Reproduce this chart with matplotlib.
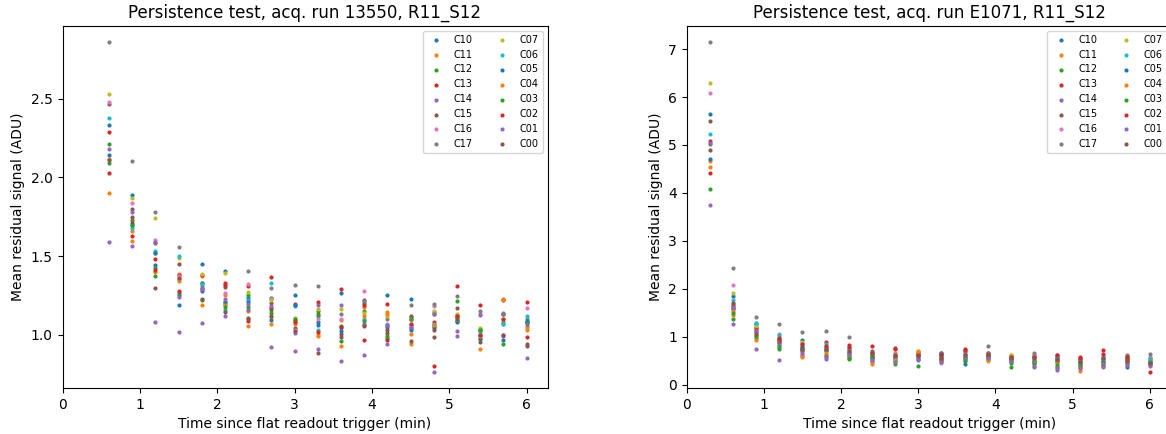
import numpy as np
import matplotlib
matplotlib.use('Agg')
import matplotlib.pyplot as plt

channels = ['C10', 'C11', 'C12', 'C13', 'C14', 'C15', 'C16', 'C17',
            'C07', 'C06', 'C05', 'C04', 'C03', 'C02', 'C01', 'C00']

# run 13550: one row per time point, columns follow `channels`
times_13550 = [0.6, 0.9, 1.2, 1.5, 1.8, 2.1, 2.4, 2.7, 3.0, 3.3,
               3.6, 3.9, 4.2, 4.5, 4.8, 5.1, 5.4, 5.7, 6.0]
resid_13550 = [
    [2.335, 2.118, 2.212, 2.287, 1.590, 2.465, 2.478, 2.857, 2.529, 2.380, 2.142, 1.900, 2.093, 2.029, 2.180, 2.110],
    [1.889, 1.656, 1.732, 1.707, 1.564, 1.796, 1.838, 2.106, 1.870, 1.677, 1.700, 1.594, 1.696, 1.626, 1.777, 1.745],
    [1.446, 1.520, 1.422, 1.478, 1.078, 1.580, 1.601, 1.781, 1.739, 1.529, 1.520, 1.397, 1.376, 1.414, 1.590, 1.297],
    [1.250, 1.388, 1.357, 1.380, 1.017, 1.452, 1.370, 1.558, 1.488, 1.501, 1.191, 1.342, 1.265, 1.280, 1.240, 1.360],
    [1.452, 1.370, 1.331, 1.378, 1.072, 1.330, 1.300, 1.310, 1.388, 1.325, 1.276, 1.191, 1.223, 1.290, 1.293, 1.227],
    [1.405, 1.250, 1.193, 1.331, 1.117, 1.301, 1.268, 1.210, 1.395, 1.159, 1.208, 1.190, 1.176, 1.314, 1.225, 1.142],
    [1.233, 1.150, 1.250, 1.310, 1.160, 1.108, 1.322, 1.408, 1.271, 1.220, 1.206, 1.053, 1.178, 1.087, 1.196, 1.098],
    [1.236, 1.110, 1.159, 1.365, 0.921, 1.201, 1.230, 1.297, 1.223, 1.329, 1.091, 1.070, 1.140, 1.170, 1.185, 1.118],
    [1.255, 1.085, 1.091, 1.197, 0.898, 1.040, 1.030, 1.316, 1.104, 1.180, 1.190, 1.070, 1.100, 1.080, 1.010, 1.023],
    [1.080, 0.991, 1.118, 1.208, 0.911, 1.153, 1.097, 1.310, 1.166, 1.032, 1.060, 1.000, 1.130, 1.017, 1.191, 0.885],
    [1.265, 1.091, 1.053, 1.290, 0.836, 1.006, 1.100, 1.129, 1.166, 1.040, 1.023, 0.930, 0.962, 1.050, 1.191, 0.985],
    [1.200, 1.178, 1.153, 1.188, 0.873, 1.223, 1.278, 1.212, 1.136, 1.100, 1.060, 1.120, 1.085, 0.968, 1.070, 1.055],
    [1.255, 1.142, 0.979, 1.197, 0.943, 1.010, 1.070, 1.100, 1.117, 1.061, 1.050, 1.130, 0.990, 0.967, 1.060, 1.030],
    [1.227, 1.004, 1.110, 1.059, 1.040, 1.121, 1.091, 1.191, 1.100, 1.045, 1.027, 0.943, 1.100, 1.070, 1.050, 0.959],
    [1.060, 1.045, 1.144, 1.080, 0.766, 1.032, 1.184, 1.197, 1.150, 1.070, 1.050, 1.060, 1.130, 0.804, 1.129, 0.983],
    [1.078, 1.127, 1.214, 1.310, 0.991, 1.169, 1.120, 1.246, 1.130, 1.110, 1.090, 1.110, 1.096, 1.120, 1.021, 1.100],
    [0.972, 0.911, 1.036, 1.191, 1.030, 1.000, 1.130, 1.153, 1.040, 1.020, 0.980, 0.990, 1.030, 1.000, 1.123, 0.951],
    [1.130, 1.229, 1.083, 1.218, 0.990, 1.129, 1.066, 1.140, 1.100, 1.070, 0.968, 1.220, 0.943, 1.100, 1.000, 1.000],
    [1.080, 1.045, 1.083, 1.208, 0.853, 0.938, 1.169, 1.100, 1.050, 1.121, 1.090, 1.027, 1.075, 0.985, 1.060, 0.930],
]

# run E1071
times_E1071 = [0.3, 0.6, 0.9, 1.2, 1.5, 1.8, 2.1, 2.4, 2.7, 3.0,
               3.3, 3.6, 3.9, 4.2, 4.5, 4.8, 5.1, 5.4, 5.7, 6.0]
resid_E1071 = [
    [5.648, 4.659, 5.015, 5.084, 3.753, 5.508, 6.080, 7.137, 6.302, 5.236, 4.714, 4.534, 4.074, 4.421, 5.035, 4.896],
    [1.851, 1.463, 1.364, 1.692, 1.260, 1.573, 2.081, 2.444, 1.914, 1.776, 1.609, 1.550, 1.500, 1.650, 1.620, 1.700],
    [1.270, 1.045, 0.982, 1.180, 0.752, 1.204, 1.300, 1.413, 1.220, 1.288, 1.099, 0.926, 1.020, 1.150, 1.130, 1.070],
    [0.836, 0.900, 0.752, 0.930, 0.522, 0.961, 1.060, 1.260, 1.000, 1.037, 0.950, 0.870, 0.800, 0.980, 0.880, 0.920],
    [0.940, 0.600, 0.752, 0.717, 0.620, 0.800, 0.880, 1.099, 0.900, 0.821, 0.780, 0.582, 0.700, 0.850, 0.660, 0.740],
    [0.750, 0.633, 0.700, 0.891, 0.543, 0.786, 0.800, 1.120, 0.780, 0.850, 0.720, 0.660, 0.600, 0.820, 0.580, 0.740],
    [0.630, 0.600, 0.543, 0.836, 0.580, 0.681, 0.760, 0.995, 0.720, 0.740, 0.660, 0.620, 0.570, 0.800, 0.640, 0.700],
    [0.600, 0.480, 0.550, 0.815, 0.500, 0.707, 0.640, 0.680, 0.620, 0.577, 0.560, 0.439, 0.580, 0.660, 0.520, 0.650],
    [0.543, 0.660, 0.500, 0.765, 0.550, 0.620, 0.640, 0.600, 0.580, 0.570, 0.600, 0.520, 0.439, 0.740, 0.480, 0.630],
    [0.620, 0.707, 0.600, 0.660, 0.520, 0.650, 0.580, 0.690, 0.700, 0.640, 0.543, 0.680, 0.403, 0.630, 0.530, 0.600],
    [0.660, 0.550, 0.580, 0.670, 0.500, 0.522, 0.452, 0.600, 0.570, 0.640, 0.650, 0.540, 0.530, 0.620, 0.480, 0.560],
    [0.425, 0.580, 0.508, 0.752, 0.550, 0.647, 0.700, 0.680, 0.600, 0.620, 0.550, 0.560, 0.520, 0.720, 0.580, 0.620],
    [0.600, 0.550, 0.570, 0.660, 0.520, 0.660, 0.640, 0.801, 0.494, 0.620, 0.580, 0.510, 0.600, 0.630, 0.560, 0.650],
    [0.550, 0.633, 0.382, 0.600, 0.500, 0.543, 0.570, 0.610, 0.620, 0.520, 0.530, 0.473, 0.450, 0.580, 0.490, 0.560],
    [0.480, 0.520, 0.500, 0.600, 0.367, 0.577, 0.640, 0.670, 0.550, 0.530, 0.473, 0.450, 0.430, 0.580, 0.400, 0.560],
    [0.550, 0.470, 0.382, 0.633, 0.320, 0.522, 0.500, 0.580, 0.450, 0.600, 0.530, 0.480, 0.420, 0.620, 0.360, 0.510],
    [0.543, 0.299, 0.396, 0.571, 0.360, 0.452, 0.500, 0.520, 0.410, 0.500, 0.480, 0.380, 0.420, 0.560, 0.350, 0.470],
    [0.500, 0.487, 0.450, 0.717, 0.382, 0.564, 0.600, 0.550, 0.520, 0.530, 0.470, 0.440, 0.420, 0.647, 0.400, 0.570],
    [0.382, 0.500, 0.550, 0.600, 0.420, 0.520, 0.570, 0.633, 0.500, 0.560, 0.460, 0.480, 0.530, 0.580, 0.440, 0.490],
    [0.500, 0.470, 0.520, 0.564, 0.400, 0.439, 0.580, 0.647, 0.490, 0.530, 0.450, 0.440, 0.480, 0.278, 0.410, 0.460],
]


def persistence_plot(ax, times, resid, run):
    vals = np.array(resid).T
    for name, v in zip(channels, vals):
        ax.scatter(times, v, s=4, label=name)
    ax.set_xlim(left=0)
    ax.set_title('Persistence test, acq. run %s, R11_S12' % run)
    ax.set_xlabel('Time since flat readout trigger (min)')
    ax.set_ylabel('Mean residual signal (ADU)')
    ax.legend(loc='upper right', ncol=2, fontsize=7)


fig = plt.figure(figsize=(11.66, 4.34), dpi=100)
# right panel runs a bit past the figure edge, as in the original
ax1 = fig.add_axes([62.5 / 1166, 46 / 434, 485 / 1166, 362 / 434])
ax2 = fig.add_axes([686.7 / 1166, 46 / 434, 485 / 1166, 362 / 434])

persistence_plot(ax1, times_13550, resid_13550, '13550')
persistence_plot(ax2, times_E1071, resid_E1071, 'E1071')

fig.savefig('out.png', dpi=100)
